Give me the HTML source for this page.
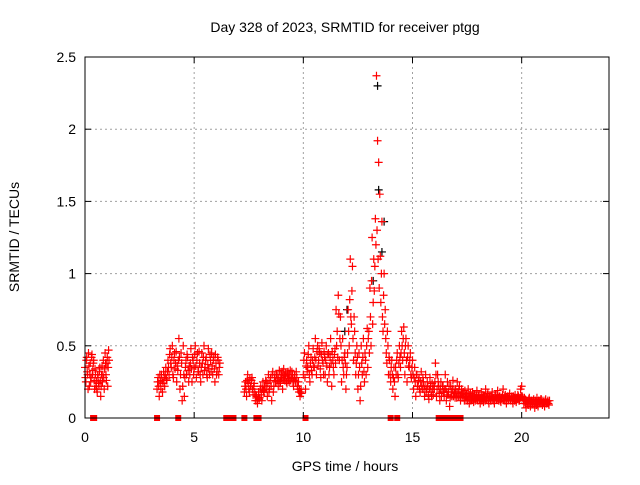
<!DOCTYPE html>
<html><head><meta charset="utf-8"><style>
body{margin:0;background:#fff}
svg text{font-family:"Liberation Sans",sans-serif;font-size:14px;fill:#000}
</style></head><body>
<svg id="chart" width="640" height="480" xmlns="http://www.w3.org/2000/svg">
<rect width="640" height="480" fill="#fff"/>
<text x="345" y="32" text-anchor="middle">Day 328 of 2023, SRMTID for receiver ptgg</text>
<text x="345" y="471" text-anchor="middle">GPS time / hours</text>
<text transform="translate(19,237) rotate(-90)" text-anchor="middle">SRMTID / TECUs</text>
<g id="grid"></g><g id="marks"></g><g id="axes"></g>
</svg>
<script>
const xTicks=[0,5,10,15,20];
const yTicks=[0,0.5,1,1.5,2,2.5];
const yTickLabels=["0","0.5","1","1.5","2","2.5"];
const segStarts=[0,3.3,7.3,10.0];
const segStep=[0.04,0.05,0.05,0.05];
const segA=[0.35,0.25,0.42,0.3,0.45,0.22,0.38,0.28,0.44,0.33,0.4,0.2,0.3,0.25,0.18,0.28,0.22,0.35,0.15,0.3,0.25,0.4,0.2,0.45,0.3,0.38,0.22,0.47];
const segA2=[0.28,0.4,0.32,0.2,0.36,0.3,0.25,0.42,0.3,0.38,0.26,0.34,0.22,0.2,0.3,0.24,0.32,0.26,0.22,0.36,0.3,0.28,0.34,0.38,0.26,0.42,0.35,0.4];
const segB=[0.2,0.28,0.15,0.25,0.3,0.18,0.32,0.22,0.35,0.26,0.4,0.3,0.48,0.35,0.5,0.28,0.45,0.38,0.25,0.33,0.55,0.2,0.45,0.12,0.5,0.15,0.35,0.3,0.42,0.25,0.3,0.48,0.25,0.4,0.35,0.5,0.28,0.45,0.32,0.38,0.25,0.45,0.3,0.5,0.35,0.42,0.28,0.48,0.3,0.4,0.45,0.3,0.42,0.25,0.38,0.32,0.4,0.35];
const segB2=[0.25,0.22,0.3,0.2,0.26,0.24,0.28,0.3,0.27,0.32,0.35,0.44,0.38,0.42,0.3,0.4,0.34,0.46,0.36,0.4,0.42,0.3,0.38,0.22,0.3,0.28,0.4,0.44,0.33,0.36,0.38,0.34,0.42,0.3,0.44,0.36,0.4,0.32,0.46,0.3,0.35,0.38,0.42,0.33,0.4,0.3,0.37,0.34,0.44,0.32,0.36,0.4,0.34,0.44,0.3,0.42,0.3,0.38];
const segC=[0.18,0.25,0.15,0.3,0.2,0.27,0.22,0.28,0.16,0.24,0.12,0.15,0.1,0.18,0.14,0.22,0.12,0.25,0.18,0.2,0.25,0.15,0.3,0.2,0.28,0.12,0.32,0.22,0.3,0.25,0.3,0.22,0.33,0.25,0.28,0.2,0.34,0.26,0.3,0.24,0.32,0.25,0.33,0.28,0.3,0.22,0.3,0.25,0.28,0.2,0.18,0.15,0.2];
const segC2=[0.22,0.2,0.26,0.24,0.18,0.22,0.26,0.2,0.22,0.18,0.16,0.12,0.14,0.13,0.2,0.16,0.2,0.19,0.22,0.26,0.2,0.24,0.18,0.26,0.22,0.3,0.18,0.28,0.25,0.3,0.26,0.28,0.24,0.3,0.32,0.27,0.29,0.31,0.25,0.3,0.27,0.3,0.26,0.32,0.25,0.28,0.26,0.32,0.22,0.25,0.2,0.18,0.17];
const segD=[0.3,0.45,0.2,0.4,0.35,0.5,0.25,0.42,0.3,0.48,
0.35,0.55,0.3,0.5,0.4,0.45,0.28,0.52,0.38,0.46,
0.3,0.5,0.25,0.45,0.35,0.55,0.22,0.4,0.3,0.48,
0.75,0.6,0.85,0.4,0.7,0.25,0.55,0.3,0.45,0.2,
0.35,0.75,0.5,1.1,0.65,1.05,0.4,0.6,0.3,0.5,
0.2,0.45,0.12,0.5,0.3,0.55,0.25,0.4,0.5,0.35,
0.6,0.9,0.5,1.25,0.8,0.88,1.38,2.37,1.92,1.77,
1.55,0.8,1.36,0.6,1.0,0.75,0.45,0.6,0.3,0.4,
0.25,0.4,0.2,0.35,0.15,0.3,0.45,0.28,0.5,0.35,
0.6,0.4,0.63,0.3,0.55,0.25,0.5,0.35,0.45,0.28,
0.4,0.2,0.35,0.15,0.3,0.22,0.28,0.18,0.32,0.2,
0.25,0.15,0.3,0.2,0.22,0.13,0.28,0.18,0.24,0.16,
0.2,0.38,0.15,0.3,0.22,0.12,0.25,0.18,0.22,0.15,
0.3,0.12,0.25,0.18,0.08,0.22,0.15,0.26,0.2,0.14,
0.18,0.25,0.15,0.22,0.12,0.2,0.16,0.14,0.19,0.12,
0.15,0.2,0.1,0.17,0.13,0.18,0.11,0.16,0.14,0.19,
0.12,0.16,0.1,0.18,0.14,0.11,0.15,0.2,0.13,0.17,
0.1,0.15,0.12,0.18,0.14,0.1,0.16,0.13,0.19,0.12,
0.15,0.11,0.14,0.2,0.12,0.16,0.1,0.15,0.13,0.17,
0.12,0.15,0.1,0.14,0.16,0.11,0.13,0.15,0.12,0.2,
0.22,0.14,0.1,0.13,0.07,0.12,0.09,0.14,0.08,0.12,
0.1,0.13,0.07,0.11,0.14,0.08,0.12,0.1,0.13,0.09,
0.11,0.08,0.13,0.1,0.12,0.09];
const segD2=[0.4,0.28,0.36,0.32,0.44,0.3,0.38,0.33,0.4,0.36,
0.42,0.4,0.46,0.36,0.48,0.34,0.44,0.4,0.3,0.42,
0.4,0.36,0.44,0.3,0.42,0.38,0.46,0.35,0.44,0.38,
0.5,0.42,0.72,0.55,0.5,0.4,0.35,0.42,0.38,0.3,
0.45,0.6,0.82,0.7,0.88,0.55,0.7,0.45,0.38,0.42,
0.3,0.35,0.22,0.38,0.42,0.32,0.45,0.3,0.62,0.55,
0.45,0.7,0.95,0.65,1.1,1.05,1.2,1.3,1.1,0.9,
1.12,1.0,0.7,0.85,0.65,0.55,0.38,0.5,0.42,0.3,
0.35,0.3,0.28,0.25,0.35,0.4,0.3,0.38,0.42,0.45,
0.5,0.55,0.45,0.5,0.4,0.42,0.36,0.4,0.3,0.35,
0.3,0.28,0.25,0.3,0.22,0.26,0.2,0.25,0.22,0.28,
0.2,0.22,0.18,0.25,0.16,0.2,0.22,0.15,0.2,0.22,
0.25,0.3,0.2,0.25,0.17,0.2,0.15,0.22,0.18,0.2,
0.2,0.18,0.16,0.22,0.14,0.18,0.2,0.15,0.17,0.2,
0.14,0.18,0.2,0.15,0.17,0.14,0.18,0.12,0.15,0.16,
0.12,0.14,0.16,0.12,0.15,0.13,0.16,0.12,0.15,0.13,
0.15,0.13,0.14,0.12,0.16,0.15,0.12,0.14,0.16,0.12,
0.14,0.12,0.15,0.13,0.12,0.15,0.13,0.16,0.14,0.15,
0.12,0.14,0.16,0.13,0.15,0.12,0.14,0.12,0.15,0.13,
0.14,0.12,0.15,0.12,0.13,0.14,0.16,0.12,0.14,0.15,
0.15,0.12,0.14,0.1,0.12,0.1,0.13,0.11,0.12,0.1,
0.12,0.1,0.12,0.09,0.1,0.12,0.1,0.13,0.1,0.12,
0.1,0.12,0.1,0.11,0.1,0.12];
const zeroTimes=[0.37,0.42,3.3,4.27,6.47,6.6,6.8,7.3,7.85,7.95,10.1,14.0,14.3,16.2,16.4,16.6,16.8,17.0,17.2];
const blackTimes=[13.4,13.45,13.7,13.6,13.2,12.0,11.9];
const blackVals=[2.3,1.58,1.36,1.15,0.95,0.75,0.6];

const X0=85,X1=609,Y0=418,Y1=57;
const xs=t=>X0+t/24*(X1-X0);
const ys=v=>Y0-v/2.5*(Y0-Y1);
const NS="http://www.w3.org/2000/svg";
function mk(tag,attrs,parent){const e=document.createElementNS(NS,tag);for(const k in attrs)e.setAttribute(k,attrs[k]);parent.appendChild(e);return e;}
const grid=document.getElementById('grid'),axes=document.getElementById('axes'),marks=document.getElementById('marks');
xTicks.forEach(t=>{
 if(t>0){const g=mk('line',{x1:xs(t),x2:xs(t),y1:Y1,y2:Y0,stroke:'#a0a0a0','stroke-dasharray':'2,3'},grid);
 
 }
 mk('line',{x1:xs(t),x2:xs(t),y1:Y0,y2:Y0-6,stroke:'#000'},axes);
 mk('line',{x1:xs(t),x2:xs(t),y1:Y1,y2:Y1+6,stroke:'#000'},axes);
 const l=mk('text',{x:xs(t),y:Y0+24,'text-anchor':'middle'},axes);l.textContent=t;
 
 
});
yTicks.forEach((v,i)=>{
 if(v>0&&v<2.5){const g=mk('line',{x1:X0,x2:X1,y1:ys(v),y2:ys(v),stroke:'#a0a0a0','stroke-dasharray':'2,3'},grid);
 
 }
 mk('line',{x1:X0,x2:X0+6,y1:ys(v),y2:ys(v),stroke:'#000'},axes);
 mk('line',{x1:X1,x2:X1-6,y1:ys(v),y2:ys(v),stroke:'#000'},axes);
 const l=mk('text',{x:X0-9,y:ys(v)+5,'text-anchor':'end'},axes);l.textContent=yTickLabels[i];
 
 
});
const frame=mk('rect',{x:X0,y:Y1,width:X1-X0,height:Y0-Y1,fill:'none',stroke:'#000'},axes);


function plus(t,v,col){
 const x=xs(t),y=ys(v);
 const p=mk('path',{d:`M${x-4},${y}h8M${x},${y-4}v8`,stroke:col,'stroke-width':1.2,fill:'none'},marks);
 
 
}
blackVals.forEach((v,i)=>plus(blackTimes[i],v,'#000'));
[segA,segB,segC,segD].forEach((seg,si)=>seg.forEach((v,i)=>plus(segStarts[si]+i*segStep[si],v,'#f00')));
[segA2,segB2,segC2,segD2].forEach((seg,si)=>seg.forEach((v,i)=>plus(segStarts[si]+(i+0.5)*segStep[si],v,'#f00')));
zeroTimes.forEach(t=>{
 const r=mk('rect',{x:xs(t)-3,y:Y0-3,width:6,height:6,fill:'#f00'},marks);
 
 
});
</script>
</body></html>
